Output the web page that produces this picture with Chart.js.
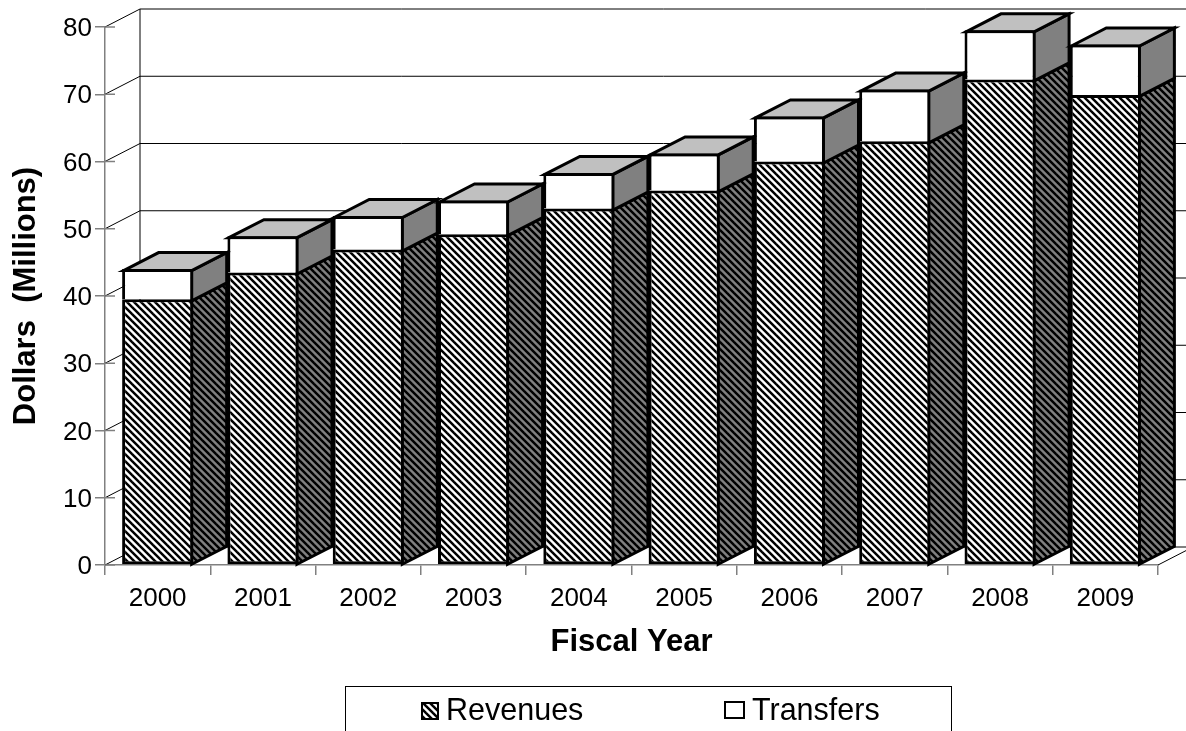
<!DOCTYPE html>
<html>
<head>
<meta charset="utf-8">
<title>Fiscal Year Revenues and Transfers</title>
<script src="https://cdn.jsdelivr.net/npm/chart.js@4/dist/chart.umd.min.js"></script>
<style>
  html, body { margin: 0; padding: 0; background: #fff; overflow: hidden; }
  #wrap { width: 1186px; height: 731px; }
</style>
</head>
<body>
<div id="wrap"><canvas id="myChart" width="1186" height="731"></canvas></div>
<script>
var categories = ["2000", "2001", "2002", "2003", "2004", "2005", "2006", "2007", "2008", "2009"];
var revenues = [39.5, 43.5, 46.9, 49.2, 53.0, 55.7, 60.0, 63.0, 72.2, 69.9];
var transfers = [4.5, 5.4, 5.0, 5.0, 5.3, 5.5, 6.7, 7.7, 7.3, 7.5];
var seriesNames = ["Revenues", "Transfers"];

var FONT = "'Liberation Sans', Arial, sans-serif";
var DEPTH_X = 35;
var DEPTH_Y = 18;

// diagonal stripes, same direction on the front and on the side of the bars
function stripes(bg, fg, size, width) {
    var c = document.createElement("canvas");
    c.width = size;
    c.height = size;
    var t = c.getContext("2d");
    t.fillStyle = bg;
    t.fillRect(0, 0, size, size);
    t.strokeStyle = fg;
    t.lineWidth = width;
    for (var o = -size; o <= size; o += size) {
        t.beginPath();
        t.moveTo(o - 1, -1);
        t.lineTo(o + size + 1, size + 1);
        t.stroke();
    }
    return t.createPattern(c, "repeat");
}

var ctx = document.getElementById("myChart").getContext("2d");
var frontHatch = stripes("#ffffff", "#000000", 7, 2.5);
var sideHatch = stripes("#808080", "#000000", 7, 2.5);

function line(c, x1, y1, x2, y2) {
    c.beginPath();
    c.moveTo(x1, y1);
    c.lineTo(x2, y2);
    c.stroke();
}

function poly(c, pts, fill) {
    c.beginPath();
    c.moveTo(pts[0][0], pts[0][1]);
    for (var i = 1; i < pts.length; i++) c.lineTo(pts[i][0], pts[i][1]);
    c.closePath();
    c.fillStyle = fill;
    c.fill();
    c.stroke();
}

// back wall, side walls of the box and the depth faces of every bar
var box3d = {
    id: "box3d",
    beforeDatasetsDraw: function (chart) {
        var c = chart.ctx, a = chart.chartArea, y = chart.scales.y;
        c.save();
        c.strokeStyle = "#000";
        c.lineWidth = 1;
        y.ticks.forEach(function (t) {
            var py = y.getPixelForValue(t.value);
            line(c, a.left, py, a.left + DEPTH_X, py - DEPTH_Y);
            line(c, a.left + DEPTH_X, py - DEPTH_Y, a.right + DEPTH_X, py - DEPTH_Y);
        });
        line(c, a.left + DEPTH_X, y.getPixelForValue(80) - DEPTH_Y, a.left + DEPTH_X, y.getPixelForValue(0) - DEPTH_Y);
        line(c, a.right, y.getPixelForValue(0), a.right + DEPTH_X, y.getPixelForValue(0) - DEPTH_Y);

        // tick marks also reach into the plot
        c.strokeStyle = "#808080";
        c.lineWidth = 1.5;
        y.ticks.forEach(function (t) {
            var py = y.getPixelForValue(t.value);
            line(c, a.left, py, a.left + 10, py);
        });

        c.strokeStyle = "#000";
        c.lineWidth = 3;
        c.lineJoin = "miter";
        var low = chart.getDatasetMeta(0).data, high = chart.getDatasetMeta(1).data;
        low.forEach(function (bar, i) {
            var r = bar.x + bar.width / 2 - 1.5;
            var l = bar.x - bar.width / 2 + 1.5;
            var top = high[i].y + 1.5;
            var mid = bar.y + 1.5;
            var base = bar.base;
            poly(c, [[r, base], [r + DEPTH_X, base - DEPTH_Y], [r + DEPTH_X, mid - DEPTH_Y], [r, mid]], sideHatch);
            poly(c, [[r, mid], [r + DEPTH_X, mid - DEPTH_Y], [r + DEPTH_X, top - DEPTH_Y], [r, top]], "#808080");
            poly(c, [[l, top], [l + DEPTH_X, top - DEPTH_Y], [r + DEPTH_X, top - DEPTH_Y], [r, top]], "#c0c0c0");
        });
        c.restore();
    }
};

// legend frame runs past the bottom of the picture, as in the original
var frameLegend = {
    id: "frameLegend",
    afterDraw: function (chart) {
        var c = chart.ctx;
        c.save();
        c.strokeStyle = "#000";
        c.lineWidth = 1;
        c.strokeRect(345.5, 686.5, 606, 60);

        c.font = "30.5px " + FONT;
        c.textBaseline = "middle";
        c.fillStyle = "#000";
        c.fillText(chart.data.datasets[0].label, 446, 712);
        c.fillText(chart.data.datasets[1].label, 752, 712);

        c.lineWidth = 2;
        c.fillStyle = chart.data.datasets[0].backgroundColor;
        c.fillRect(422, 703, 16, 16);
        c.strokeRect(422, 703, 16, 16);
        c.fillStyle = chart.data.datasets[1].backgroundColor;
        c.fillRect(725, 702, 19, 16);
        c.strokeRect(725, 702, 19, 16);
        c.restore();
    }
};

new Chart(ctx, {
    type: "bar",
    data: {
        labels: categories,
        datasets: [{
            label: seriesNames[0],
            data: revenues,
            backgroundColor: frontHatch,
            borderColor: "#000",
            borderWidth: 3,
            borderSkipped: false
        }, {
            label: seriesNames[1],
            data: transfers,
            backgroundColor: "#ffffff",
            borderColor: "#000",
            borderWidth: 3,
            borderSkipped: "bottom"
        }]
    },
    options: {
        responsive: false,
        animation: false,
        devicePixelRatio: 1,
        barPercentage: 0.675,
        categoryPercentage: 1,
        layout: { padding: { left: 0, right: 28, top: 27, bottom: 70 } },
        plugins: {
            legend: { display: false },
            tooltip: { enabled: false }
        },
        scales: {
            x: {
                stacked: true,
                afterFit: function (s) { s.height = 96; },
                border: { color: "#808080", width: 1.5 },
                grid: { drawOnChartArea: false, drawTicks: true, tickLength: 10, color: "#808080", lineWidth: 1.5, offset: true },
                ticks: { color: "#000", font: { family: FONT, size: 26 }, padding: 8, maxRotation: 0, autoSkip: false },
                title: { display: true, text: "Fiscal Year", color: "#000", font: { family: FONT, size: 31, weight: "bold" }, padding: { top: 0, bottom: 0 } }
            },
            y: {
                stacked: true,
                min: 0,
                max: 80,
                afterFit: function (s) { s.width = 105; },
                border: { color: "#808080", width: 1.5 },
                grid: { drawOnChartArea: false, drawTicks: true, tickLength: 10, color: "#808080", lineWidth: 1.5 },
                ticks: { color: "#000", stepSize: 10, font: { family: FONT, size: 26 }, padding: 3, labelOffset: 2 },
                title: { display: true, text: "Dollars  (Millions)", color: "#000", font: { family: FONT, size: 31, weight: "bold" }, padding: { top: 8, bottom: 0 } }
            }
        }
    },
    plugins: [box3d, frameLegend]
});
</script>
</body>
</html>
